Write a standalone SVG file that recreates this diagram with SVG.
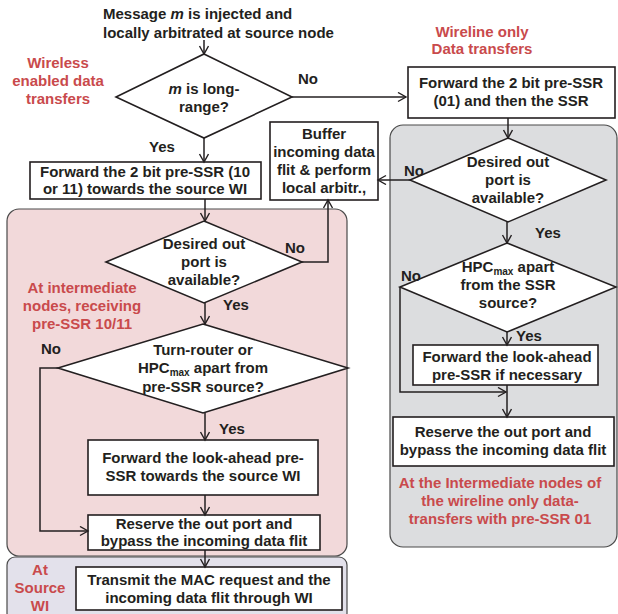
<svg xmlns="http://www.w3.org/2000/svg" width="618" height="614" viewBox="0 0 618 614">
<style>
text{font-family:"Liberation Sans",Arial,sans-serif;font-weight:bold;font-size:15px;fill:#231f20;text-anchor:middle}
text.red{fill:#c94a4c}
text.start{text-anchor:start}
.box{fill:#fff;stroke:#231f20;stroke-width:1.6}
.dia{fill:#fff;stroke:#231f20;stroke-width:1.6}
.conn path{fill:none;stroke:#231f20;stroke-width:1.5;marker-end:url(#arr)}
</style>
<defs>
<marker id="arr" markerUnits="userSpaceOnUse" markerWidth="12" markerHeight="12" refX="9" refY="5" orient="auto">
<path d="M1,0.5 L9,5 L1,9.5" fill="none" stroke="#231f20" stroke-width="1.4"/>
</marker>
</defs>
<g id="panel-pink"><rect x="7" y="209" width="340" height="347" rx="12" fill="#f2d9da" stroke="#4a4a4a" stroke-width="1.2"/></g>
<g id="panel-lav"><rect x="7" y="557" width="340" height="64" rx="8" fill="#e3e1eb" stroke="#4a4a4a" stroke-width="1.2"/></g>
<g id="panel-gray"><rect x="390" y="125" width="227" height="422" rx="13" fill="#dcdddf" stroke="#4a4a4a" stroke-width="1.2"/></g>

<g id="title"><text class="start" x="103" y="19">Message <tspan font-style="italic">m</tspan> is injected and</text><text class="start" x="103" y="38">locally arbitrated at source node</text></g>
<g id="lbl-wireless"><text class="red" x="58" y="68">Wireless</text><text class="red" x="58" y="86">enabled data</text><text class="red" x="58" y="104">transfers</text></g>
<g id="lbl-wireline"><text class="red" x="482" y="37">Wireline only</text><text class="red" x="482" y="54">Data transfers</text></g>

<g id="d-longrange"><polygon class="dia" points="204,54 292,97 204,138 116,97"/><text x="204" y="94"><tspan font-style="italic">m</tspan> is long-</text><text x="204" y="112">range?</text></g>

<g id="b-fwd01"><rect class="box" x="408" y="67" width="207" height="51"/><text x="511" y="88">Forward the 2 bit pre-SSR</text><text x="511" y="106">(01) and then the SSR</text></g>

<g id="b-fwd1011"><rect class="box" x="30" y="162" width="231" height="37"/><text x="145" y="177">Forward the 2 bit pre-SSR (10</text><text x="145" y="194">or 11) towards the source WI</text></g>

<g id="b-buffer"><rect class="box" x="270" y="122" width="108" height="78"/><text x="324" y="139">Buffer</text><text x="324" y="157">incoming data</text><text x="324" y="175">flit &amp; perform</text><text x="324" y="193">local arbitr.,</text></g>

<g id="d-avail-l"><polygon class="dia" points="204,221 302,262 204,303 106,262"/><text x="204" y="249">Desired out</text><text x="204" y="267">port is</text><text x="204" y="285">available?</text></g>

<g id="d-turn"><polygon class="dia" points="203,324 348,368 203,413 58,368"/><text x="203" y="355">Turn-router or</text><text x="203" y="373">HPC<tspan font-size="10" dy="3">max</tspan><tspan dy="-3"> apart from</tspan></text><text x="203" y="392">pre-SSR source?</text></g>

<g id="b-look-l"><rect class="box" x="88" y="440" width="230" height="55"/><text x="203" y="463">Forward the look-ahead pre-</text><text x="203" y="481">SSR towards the source WI</text></g>

<g id="b-reserve-l"><rect class="box" x="88" y="515" width="232" height="35"/><text x="204" y="529">Reserve the out port and</text><text x="204" y="546">bypass the incoming data flit</text></g>

<g id="b-transmit"><rect class="box" x="76" y="567" width="266" height="43"/><text x="209" y="585">Transmit the MAC request and the</text><text x="209" y="603">incoming data flit through WI</text></g>

<g id="lbl-inter"><text class="red" x="82" y="293">At intermediate</text><text class="red" x="82" y="311">nodes, receiving</text><text class="red" x="82" y="329">pre-SSR 10/11</text></g>
<g id="lbl-source"><text class="red" x="40" y="575">At</text><text class="red" x="40" y="593">Source</text><text class="red" x="40" y="611">WI</text></g>

<g id="d-avail-r"><polygon class="dia" points="508,138 606,180 508,222 410,180"/><text x="508" y="167">Desired out</text><text x="508" y="185">port is</text><text x="508" y="203">available?</text></g>

<g id="d-hpc-r"><polygon class="dia" points="507,243 616,287 507,332 400,287"/><text x="508" y="272">HPC<tspan font-size="10" dy="3">max</tspan><tspan dy="-3"> apart</tspan></text><text x="508" y="290">from the SSR</text><text x="508" y="308">source?</text></g>

<g id="b-look-r"><rect class="box" x="413" y="345" width="185" height="40"/><text x="507" y="362">Forward the look-ahead</text><text x="507" y="380">pre-SSR if necessary</text></g>

<g id="b-reserve-r"><rect class="box" x="393" y="417" width="221" height="49"/><text x="503" y="437">Reserve the out port and</text><text x="503" y="455">bypass the incoming data flit</text></g>

<g id="lbl-wl-inter"><text class="red" x="500" y="488">At the Intermediate nodes of</text><text class="red" x="500" y="506">the wireline only data-</text><text class="red" x="500" y="524">transfers with pre-SSR 01</text></g>

<g id="conn-labels">
<text x="308" y="84">No</text>
<text x="162" y="152">Yes</text>
<text x="295" y="253">No</text>
<text x="236" y="310">Yes</text>
<text x="51" y="354">No</text>
<text x="232" y="434">Yes</text>
<text x="414" y="176">No</text>
<text x="548" y="238">Yes</text>
<text x="411" y="281">No</text>
<text x="529" y="341">Yes</text>
</g>

<g class="conn" id="connectors">
<path d="M204,40 V54"/>
<path d="M292,97 H406"/>
<path d="M204,138 V162"/>
<path d="M205,199 V221"/>
<path d="M302,262 H328 V200"/>
<path d="M508,118 V138"/>
<path d="M410,180 H378"/>
<path d="M507,222 V243"/>
<path d="M507,332 V345"/>
<path d="M400,287 V392 H506"/>
<path d="M507,385 V417"/>
<path d="M205,303 V324"/>
<path d="M205,413 V440"/>
<path d="M58,368 H40 V531 H88"/>
<path d="M205,495 V515"/>
<path d="M205,550 V567"/>
</g>
</svg>
